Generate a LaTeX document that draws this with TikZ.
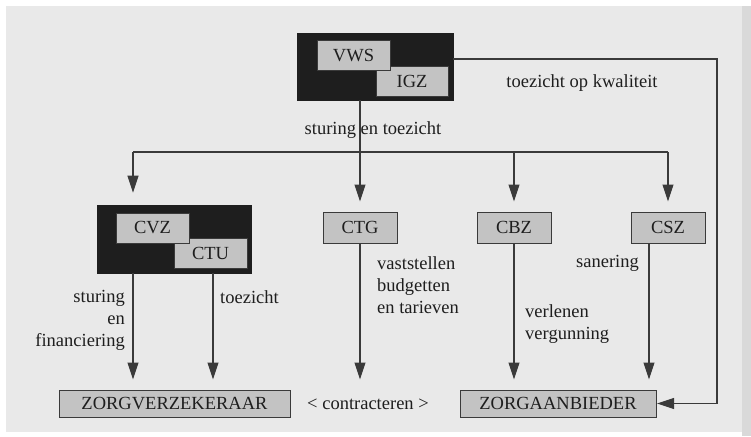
\documentclass[tikz,border=0pt]{standalone}
\usepackage{fontspec}
\setmainfont{Liberation Serif}
\newfontfamily\gfont{Liberation Serif}
\usetikzlibrary{arrows.meta}
\definecolor{bg}{HTML}{E9E9E9}
\definecolor{boxgray}{HTML}{C3C3C3}
\definecolor{ink}{HTML}{1E1E1E}
\definecolor{linec}{HTML}{3A3A3A}
\begin{document}
\begin{tikzpicture}[x=1pt,y=-1pt,
  font=\gfont\fontsize{18.5}{22}\selectfont,
  blackbox/.style={draw=ink,fill=ink,line width=0.8pt,inner sep=0pt},
  graybox/.style={draw=linec,fill=boxgray,line width=1pt,inner sep=0pt,text=ink},
  lbl/.style={text=ink,inner sep=0pt,align=left},
  conn/.style={draw=linec,line width=1.1pt},
  arr/.style={conn,-{Triangle[length=17pt,width=11pt]}}
]
\useasboundingbox (0,0) rectangle (751,436);
\fill[white] (0,0) rectangle (751,436);
\fill[bg] (6,6) rectangle (742,432);
\fill[black!15] (742,6) rectangle (751,436);

% top group
\node[blackbox,minimum width=156pt,minimum height=67pt] (vwsbox) at (375,66.5) {};
\node[graybox,minimum width=72pt,minimum height=30pt] (igz) at (412,81) {IGZ};
\node[graybox,minimum width=73pt,minimum height=29pt] (vws) at (353.5,55.5) {VWS};

% middle row
\node[blackbox,minimum width=154pt,minimum height=68pt] (cvzbox) at (174,239) {};
\node[graybox,minimum width=73pt,minimum height=30pt] (ctu) at (210.5,253) {CTU};
\node[graybox,minimum width=73pt,minimum height=30pt] (cvz) at (152.5,228) {CVZ};
\node[graybox,minimum width=74pt,minimum height=31pt] (ctg) at (360,227.5) {CTG};
\node[graybox,minimum width=74pt,minimum height=31pt] (cbz) at (514,227.5) {CBZ};
\node[graybox,minimum width=74pt,minimum height=31pt] (csz) at (668,227.5) {CSZ};

% bottom row
\node[graybox,minimum width=231pt,minimum height=27pt] (zv) at (174.5,403.5) {ZORGVERZEKERAAR};
\node[graybox,minimum width=196pt,minimum height=27pt] (za) at (558,403.5) {ZORGAANBIEDER};

% helper coordinates
\coordinate (busL) at (133,152);
\coordinate (busR) at (668,152);
\coordinate (c1) at (133,273);
\coordinate (c2) at (213,273);
\coordinate (c3) at (649,243);
\coordinate (rt) at (717,59);

% connectors
\draw[arr,shorten >=10pt] (vwsbox.south -| ctg.north) -- (ctg.north);
\draw[conn] (busL) -- (busR);
\draw[arr,shorten >=12pt] (busL) -- (busL |- cvzbox.north);
\draw[arr,shorten >=10pt] (busL -| cbz.north) -- (cbz.north);
\draw[arr,shorten >=10pt] (busR) -- (csz.north);

\draw[arr,shorten >=10pt] (c1) -- (c1 |- zv.north);
\draw[arr,shorten >=10pt] (c2) -- (c2 |- zv.north);
\draw[arr,shorten >=10pt] (ctg.south) -- (ctg.south |- zv.north);
\draw[arr,shorten >=10pt] (cbz.south) -- (cbz.south |- za.north);
\draw[arr,shorten >=10pt] (c3) -- (c3 |- za.north);

\draw[arr,shorten >=0.5pt] (vwsbox.east |- rt) -- (rt) |- (za.east);

% labels
\node[lbl] (l1) at (582,83) {toezicht op kwaliteit};
\node[lbl] (l2) at (373,130) {sturing en toezicht};
\node[lbl,align=right,anchor=east] (l3) at (125,320) {sturing\\en\\financiering};
\node[lbl,anchor=west] (l4) at (220,297) {toezicht};
\node[lbl,anchor=west] (l5) at (377,285) {vaststellen\\budgetten\\en tarieven};
\node[lbl,anchor=west] (l6) at (525,324) {verlenen\\vergunning};
\node[lbl,anchor=east] (l7) at (639,263) {sanering};
\node[lbl] (l8) at (368,404) {< contracteren >};
\end{tikzpicture}
\end{document}
